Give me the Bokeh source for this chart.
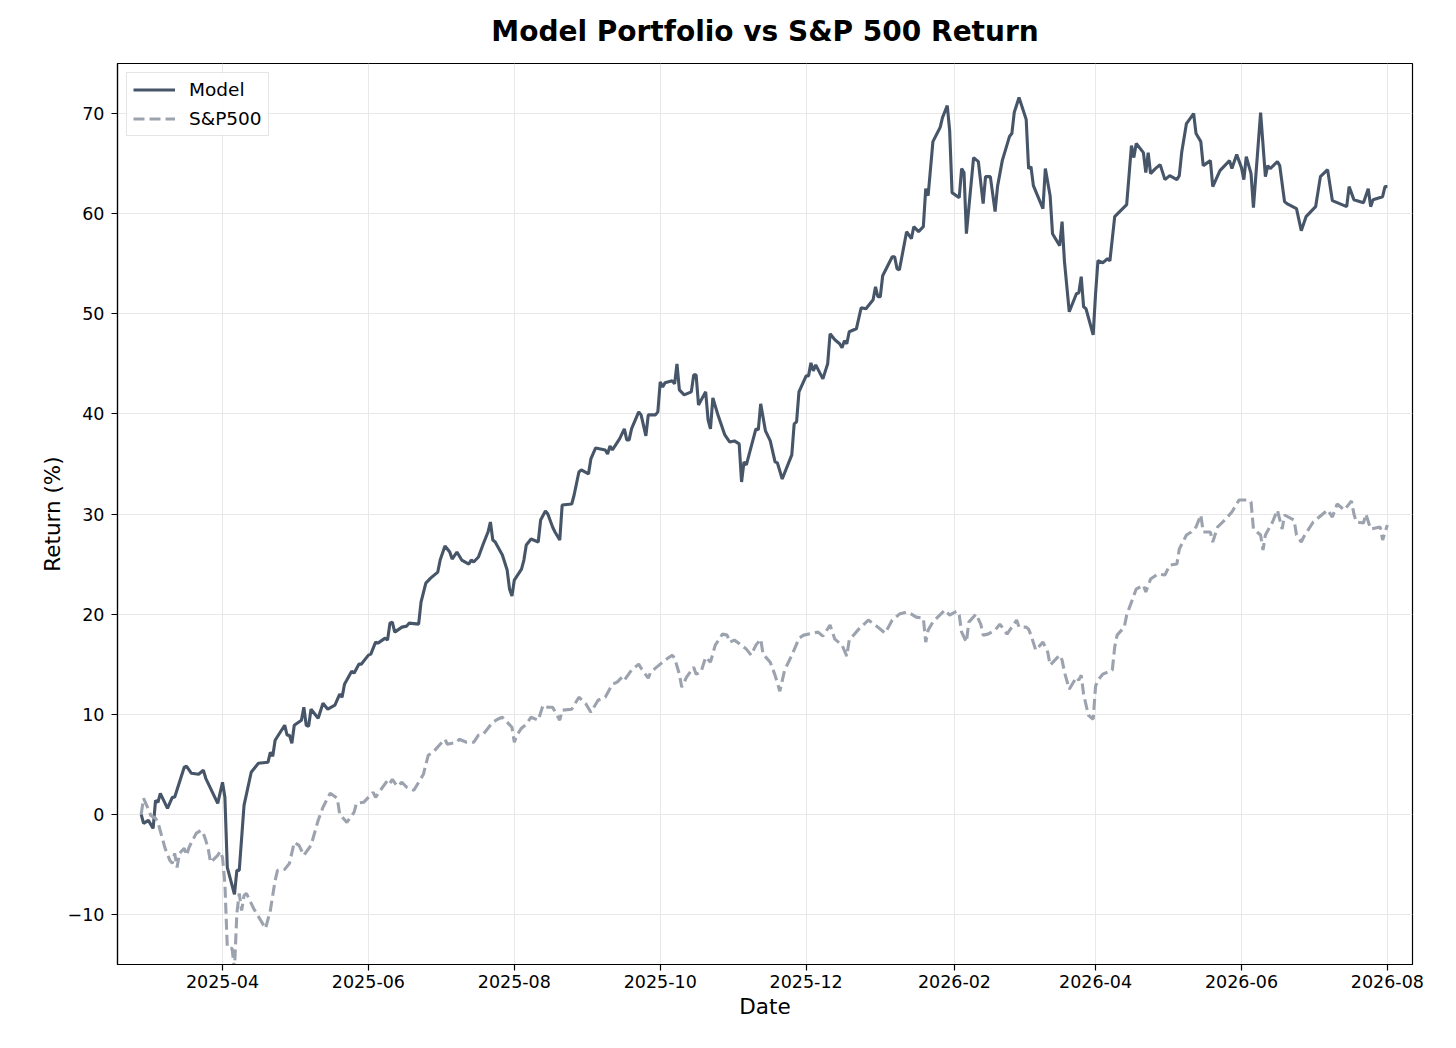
import pandas as pd
from bokeh.plotting import figure
from bokeh.models import (ColumnDataSource, Range1d, FixedTicker, DatetimeTickFormatter,
                          Legend, LegendItem)
from bokeh.embed import file_html
from bokeh.resources import INLINE

# ---------------- data ----------------
model_dates = [
    "2025-02-26", "2025-02-27", "2025-03-01", "2025-03-03", "2025-03-04", "2025-03-05", "2025-03-06",
    "2025-03-09", "2025-03-11", "2025-03-12", "2025-03-16", "2025-03-17", "2025-03-19", "2025-03-22",
    "2025-03-24", "2025-03-25", "2025-03-30", "2025-04-01", "2025-04-02", "2025-04-03", "2025-04-06",
    "2025-04-07", "2025-04-08", "2025-04-10", "2025-04-13", "2025-04-16", "2025-04-20", "2025-04-21",
    "2025-04-22", "2025-04-23", "2025-04-27", "2025-04-28", "2025-04-29", "2025-04-30", "2025-05-01",
    "2025-05-04", "2025-05-05", "2025-05-06", "2025-05-07", "2025-05-08", "2025-05-11", "2025-05-13",
    "2025-05-15", "2025-05-18", "2025-05-20", "2025-05-21", "2025-05-22", "2025-05-25", "2025-05-26",
    "2025-05-28", "2025-05-29", "2025-06-01", "2025-06-02", "2025-06-04", "2025-06-05", "2025-06-08",
    "2025-06-09", "2025-06-10", "2025-06-11", "2025-06-12", "2025-06-15", "2025-06-17", "2025-06-18",
    "2025-06-22", "2025-06-23", "2025-06-25", "2025-06-27", "2025-06-30", "2025-07-01", "2025-07-03",
    "2025-07-05", "2025-07-06", "2025-07-08", "2025-07-10", "2025-07-13", "2025-07-14", "2025-07-15",
    "2025-07-17", "2025-07-19", "2025-07-21", "2025-07-22", "2025-07-23", "2025-07-24", "2025-07-27",
    "2025-07-29", "2025-07-30", "2025-07-31", "2025-08-01", "2025-08-04", "2025-08-05", "2025-08-06",
    "2025-08-08", "2025-08-11", "2025-08-12", "2025-08-14", "2025-08-15", "2025-08-17", "2025-08-18",
    "2025-08-20", "2025-08-21", "2025-08-25", "2025-08-26", "2025-08-28", "2025-08-29", "2025-09-01",
    "2025-09-02", "2025-09-04", "2025-09-08", "2025-09-09", "2025-09-10", "2025-09-11", "2025-09-14",
    "2025-09-16", "2025-09-17", "2025-09-18", "2025-09-19", "2025-09-22", "2025-09-23", "2025-09-25",
    "2025-09-26", "2025-09-29", "2025-09-30", "2025-10-01", "2025-10-02", "2025-10-03", "2025-10-06",
    "2025-10-07", "2025-10-08", "2025-10-09", "2025-10-11", "2025-10-14", "2025-10-15", "2025-10-16",
    "2025-10-17", "2025-10-20", "2025-10-21", "2025-10-22", "2025-10-23", "2025-10-25", "2025-10-28",
    "2025-10-30", "2025-11-01", "2025-11-03", "2025-11-04", "2025-11-05", "2025-11-06", "2025-11-10",
    "2025-11-11", "2025-11-12", "2025-11-14", "2025-11-16", "2025-11-18", "2025-11-19", "2025-11-21",
    "2025-11-25", "2025-11-26", "2025-11-27", "2025-11-28", "2025-12-01", "2025-12-02", "2025-12-03",
    "2025-12-04", "2025-12-05", "2025-12-08", "2025-12-10", "2025-12-11", "2025-12-13", "2025-12-15",
    "2025-12-16", "2025-12-17", "2025-12-18", "2025-12-19", "2025-12-22", "2025-12-24", "2025-12-26",
    "2025-12-29", "2025-12-30", "2025-12-31", "2026-01-01", "2026-01-02", "2026-01-06", "2026-01-07",
    "2026-01-08", "2026-01-09", "2026-01-12", "2026-01-14", "2026-01-15", "2026-01-17", "2026-01-19",
    "2026-01-20", "2026-01-21", "2026-01-23", "2026-01-26", "2026-01-27", "2026-01-29", "2026-01-30",
    "2026-01-31", "2026-02-03", "2026-02-04", "2026-02-05", "2026-02-06", "2026-02-09", "2026-02-11",
    "2026-02-13", "2026-02-14", "2026-02-16", "2026-02-18", "2026-02-19", "2026-02-21", "2026-02-24",
    "2026-02-25", "2026-02-26", "2026-02-28", "2026-03-03", "2026-03-04", "2026-03-05", "2026-03-06",
    "2026-03-10", "2026-03-11", "2026-03-13", "2026-03-14", "2026-03-17", "2026-03-18", "2026-03-19",
    "2026-03-21", "2026-03-24", "2026-03-25", "2026-03-26", "2026-03-27", "2026-03-28", "2026-03-31",
    "2026-04-01", "2026-04-02", "2026-04-04", "2026-04-06", "2026-04-07", "2026-04-09", "2026-04-14",
    "2026-04-16", "2026-04-17", "2026-04-18", "2026-04-21", "2026-04-22", "2026-04-23", "2026-04-24",
    "2026-04-26", "2026-04-28", "2026-04-30", "2026-05-02", "2026-05-05", "2026-05-06", "2026-05-07",
    "2026-05-09", "2026-05-12", "2026-05-13", "2026-05-15", "2026-05-16", "2026-05-19", "2026-05-20",
    "2026-05-23", "2026-05-27", "2026-05-28", "2026-05-30", "2026-06-01", "2026-06-02", "2026-06-03",
    "2026-06-05", "2026-06-06", "2026-06-09", "2026-06-11", "2026-06-12", "2026-06-13", "2026-06-16",
    "2026-06-17", "2026-06-19", "2026-06-20", "2026-06-24", "2026-06-26", "2026-06-28", "2026-06-30",
    "2026-07-02", "2026-07-04", "2026-07-07", "2026-07-09", "2026-07-15", "2026-07-16", "2026-07-18",
    "2026-07-22", "2026-07-24", "2026-07-25", "2026-07-26", "2026-07-30", "2026-07-31", "2026-08-01",
]
model_values = [
    0.0, -0.9, -0.6, -1.4, 1.4, 1.2, 2.1,
    0.6, 1.7, 1.7, 4.7, 4.8, 4.1, 4.0,
    4.4, 3.6, 1.1, 3.2, 1.7, -5.3, -8.0,
    -5.6, -5.6, 0.9, 4.2, 5.1, 5.2, 6.2,
    5.8, 7.4, 8.9, 7.9, 7.9, 7.1, 8.9,
    9.4, 10.7, 8.9, 8.8, 10.5, 9.6, 11.1,
    10.5, 10.9, 12.0, 11.7, 13.0, 14.3, 14.1,
    15.0, 15.0, 15.9, 16.0, 17.2, 17.1, 17.6,
    17.4, 19.1, 19.2, 18.2, 18.7, 18.8, 19.1,
    19.0, 21.2, 23.1, 23.6, 24.2, 25.4, 26.8,
    26.2, 25.5, 26.2, 25.4, 25.0, 25.4, 25.2,
    25.7, 27.0, 28.2, 29.2, 27.4, 27.2, 25.9,
    24.4, 22.5, 21.8, 23.4, 24.5, 25.4, 26.9,
    27.5, 27.2, 29.4, 30.3, 30.0, 28.7, 28.2,
    27.4, 30.9, 31.0, 31.9, 34.2, 34.4, 34.0,
    35.5, 36.6, 36.4, 36.0, 36.8, 36.4, 37.5,
    38.5, 37.4, 37.4, 38.5, 40.2, 39.9, 37.8,
    39.9, 39.9, 40.2, 43.2, 42.7, 43.1, 43.3,
    43.0, 45.0, 42.4, 41.9, 42.2, 43.9, 43.9,
    40.9, 42.2, 39.4, 38.5, 41.6, 40.0, 37.9,
    37.2, 37.3, 37.0, 33.2, 35.2, 34.9, 38.5,
    38.4, 41.0, 38.3, 37.3, 35.2, 35.1, 33.5,
    35.9, 39.0, 39.2, 42.2, 43.8, 43.8, 45.1,
    44.3, 44.9, 43.5, 45.0, 48.0, 47.4, 47.0,
    46.6, 47.3, 47.0, 48.2, 48.5, 50.6, 50.5,
    51.4, 52.7, 51.7, 51.7, 53.8, 55.7, 55.7,
    54.5, 54.4, 58.2, 57.5, 58.7, 58.2, 58.7,
    62.5, 61.8, 67.2, 68.6, 69.6, 70.8, 68.3,
    62.1, 61.6, 64.5, 64.1, 58.0, 65.6, 65.2,
    61.0, 63.7, 63.7, 60.2, 62.7, 65.3, 67.7,
    68.0, 70.1, 71.6, 69.4, 64.5, 64.7, 62.8,
    60.5, 64.5, 61.8, 58.0, 56.8, 59.2, 55.2,
    50.2, 52.0, 52.1, 53.7, 50.7, 50.5, 47.9,
    52.0, 55.3, 55.1, 55.5, 55.3, 59.7, 60.9,
    66.8, 65.6, 67.0, 66.1, 64.1, 66.1, 64.0,
    64.5, 64.9, 63.4, 63.8, 63.4, 63.8, 66.1,
    69.0, 70.0, 68.0, 67.2, 64.8, 65.3, 62.7,
    64.3, 65.3, 64.5, 65.9, 64.6, 63.4, 65.7,
    64.0, 60.6, 70.1, 63.7, 64.8, 64.5, 65.2,
    64.8, 61.2, 61.0, 60.5, 58.3, 59.7, 60.2,
    60.7, 63.7, 64.4, 61.3, 60.7, 62.7, 61.4,
    61.1, 62.5, 60.7, 61.4, 61.7, 62.7, 62.7,
]

sp_dates = [
    "2025-02-26", "2025-02-27", "2025-03-01", "2025-03-02", "2025-03-04", "2025-03-05", "2025-03-08",
    "2025-03-10", "2025-03-11", "2025-03-12", "2025-03-13", "2025-03-14", "2025-03-16", "2025-03-17",
    "2025-03-18", "2025-03-21", "2025-03-23", "2025-03-24", "2025-03-25", "2025-03-26", "2025-03-27",
    "2025-03-30", "2025-03-31", "2025-04-01", "2025-04-02", "2025-04-03", "2025-04-05", "2025-04-06",
    "2025-04-07", "2025-04-08", "2025-04-09", "2025-04-10", "2025-04-11", "2025-04-14", "2025-04-19",
    "2025-04-21", "2025-04-23", "2025-04-24", "2025-04-27", "2025-04-29", "2025-05-01", "2025-05-03",
    "2025-05-05", "2025-05-08", "2025-05-11", "2025-05-13", "2025-05-16", "2025-05-19", "2025-05-20",
    "2025-05-23", "2025-05-26", "2025-05-27", "2025-05-30", "2025-06-03", "2025-06-04", "2025-06-06",
    "2025-06-09", "2025-06-10", "2025-06-11", "2025-06-13", "2025-06-15", "2025-06-17", "2025-06-20",
    "2025-06-22", "2025-06-24", "2025-06-26", "2025-06-28", "2025-07-01", "2025-07-03", "2025-07-04",
    "2025-07-08", "2025-07-09", "2025-07-12", "2025-07-15", "2025-07-17", "2025-07-19", "2025-07-23",
    "2025-07-25", "2025-07-27", "2025-07-31", "2025-08-01", "2025-08-02", "2025-08-04", "2025-08-06",
    "2025-08-08", "2025-08-11", "2025-08-13", "2025-08-15", "2025-08-17", "2025-08-20", "2025-08-21",
    "2025-08-25", "2025-08-28", "2025-08-31", "2025-09-02", "2025-09-05", "2025-09-08", "2025-09-11",
    "2025-09-13", "2025-09-15", "2025-09-16", "2025-09-19", "2025-09-22", "2025-09-23", "2025-09-26",
    "2025-09-27", "2025-09-29", "2025-10-03", "2025-10-06", "2025-10-07", "2025-10-09", "2025-10-10",
    "2025-10-12", "2025-10-15", "2025-10-16", "2025-10-18", "2025-10-20", "2025-10-22", "2025-10-24",
    "2025-10-27", "2025-10-29", "2025-10-30", "2025-11-01", "2025-11-04", "2025-11-06", "2025-11-08",
    "2025-11-10", "2025-11-12", "2025-11-13", "2025-11-16", "2025-11-18", "2025-11-20", "2025-11-22",
    "2025-11-25", "2025-11-27", "2025-11-28", "2025-11-30", "2025-12-04", "2025-12-06", "2025-12-08",
    "2025-12-11", "2025-12-13", "2025-12-16", "2025-12-18", "2025-12-19", "2025-12-23", "2025-12-27",
    "2025-12-31", "2026-01-03", "2026-01-06", "2026-01-09", "2026-01-12", "2026-01-14", "2026-01-16",
    "2026-01-19", "2026-01-20", "2026-01-21", "2026-01-23", "2026-01-25", "2026-01-28", "2026-01-30",
    "2026-02-02", "2026-02-03", "2026-02-04", "2026-02-06", "2026-02-07", "2026-02-10", "2026-02-12",
    "2026-02-13", "2026-02-15", "2026-02-18", "2026-02-19", "2026-02-20", "2026-02-23", "2026-02-25",
    "2026-02-27", "2026-02-28", "2026-03-03", "2026-03-04", "2026-03-05", "2026-03-07", "2026-03-10",
    "2026-03-12", "2026-03-13", "2026-03-17", "2026-03-18", "2026-03-19", "2026-03-21", "2026-03-24",
    "2026-03-25", "2026-03-26", "2026-03-27", "2026-03-29", "2026-03-31", "2026-04-01", "2026-04-02",
    "2026-04-04", "2026-04-08", "2026-04-09", "2026-04-10", "2026-04-13", "2026-04-14", "2026-04-16",
    "2026-04-18", "2026-04-21", "2026-04-22", "2026-04-24", "2026-04-27", "2026-04-30", "2026-05-02",
    "2026-05-05", "2026-05-06", "2026-05-09", "2026-05-11", "2026-05-13", "2026-05-15", "2026-05-16",
    "2026-05-19", "2026-05-20", "2026-05-22", "2026-05-25", "2026-05-28", "2026-05-31", "2026-06-03",
    "2026-06-05", "2026-06-06", "2026-06-09", "2026-06-10", "2026-06-11", "2026-06-14", "2026-06-16",
    "2026-06-18", "2026-06-19", "2026-06-23", "2026-06-24", "2026-06-26", "2026-06-27", "2026-07-01",
    "2026-07-03", "2026-07-07", "2026-07-09", "2026-07-11", "2026-07-14", "2026-07-17", "2026-07-18",
    "2026-07-19", "2026-07-22", "2026-07-23", "2026-07-25", "2026-07-29", "2026-07-30", "2026-08-01",
]
sp_values = [
    0.0, 1.6, 0.5, -0.1, -0.4, -0.8, -3.4,
    -4.6, -4.9, -3.9, -5.3, -3.9, -3.4, -4.1,
    -3.3, -1.9, -1.6, -1.9, -2.6, -3.4, -4.8,
    -4.1, -3.7, -4.3, -6.9, -13.3, -13.4, -15.5,
    -9.9, -7.9, -9.6, -8.1, -7.9, -9.4, -11.4,
    -9.6, -6.6, -5.6, -5.5, -4.9, -2.8, -3.1,
    -4.1, -3.1, -0.6, 0.7, 2.1, 1.6, 0.0,
    -0.8, 0.2, 1.1, 1.2, 2.2, 1.7, 2.4,
    3.4, 3.1, 3.5, 2.8, 3.2, 2.7, 2.4,
    3.2, 4.0, 5.9, 6.2, 7.0, 7.5, 7.0,
    7.2, 7.5, 7.2, 7.2, 7.9, 8.0, 9.2,
    9.5, 9.7, 8.7, 7.2, 7.9, 8.6, 9.0,
    9.7, 9.4, 10.9, 10.7, 10.7, 9.4, 10.4,
    10.5, 11.7, 11.0, 10.2, 11.4, 11.7, 13.0,
    13.2, 13.7, 13.4, 14.4, 15.0, 14.6, 13.6,
    14.2, 14.6, 15.4, 15.9, 15.6, 14.0, 12.7,
    13.7, 14.7, 14.0, 14.2, 15.7, 15.2, 16.9,
    18.0, 17.9, 17.2, 17.4, 16.9, 16.5, 15.9,
    16.9, 17.5, 16.0, 15.2, 13.9, 12.3, 14.4,
    15.9, 17.0, 17.6, 17.9, 18.1, 18.2, 17.8,
    18.9, 17.5, 16.9, 15.8, 17.4, 18.5, 19.4,
    18.7, 18.1, 19.4, 20.0, 20.2, 20.0, 19.7,
    19.6, 17.2, 18.4, 19.2, 19.7, 20.4, 19.9,
    20.3, 19.9, 18.2, 17.2, 19.2, 20.0, 19.0,
    17.9, 18.0, 18.4, 18.7, 19.0, 18.0, 18.7,
    19.4, 18.7, 18.7, 18.5, 17.9, 16.4, 17.2,
    16.2, 14.9, 15.9, 15.4, 14.2, 12.5, 13.7,
    13.4, 13.9, 12.0, 9.9, 9.5, 12.8, 13.4,
    14.0, 14.4, 16.7, 17.9, 18.7, 19.9, 21.2,
    22.5, 22.9, 22.2, 23.5, 24.0, 23.9, 24.9,
    25.0, 26.5, 27.9, 28.2, 28.7, 29.9, 28.2,
    28.2, 27.2, 28.7, 29.4, 30.2, 31.4, 31.4,
    31.2, 28.5, 27.9, 26.4, 27.9, 29.2, 30.4,
    28.5, 29.9, 29.4, 27.9, 27.2, 27.7, 29.2,
    29.6, 30.4, 29.7, 31.0, 30.4, 31.3, 30.0,
    29.2, 29.1, 30.0, 28.5, 28.7, 27.4, 28.9,
]

x_tick_labels = ["2025-04", "2025-06", "2025-08", "2025-10", "2025-12",
                 "2026-02", "2026-04", "2026-06", "2026-08"]
y_tick_values = [-10, 0, 10, 20, 30, 40, 50, 60, 70]

# ---------------- figure ----------------
FONT = "DejaVu Sans"
MODEL_COLOR = "#475569"
SP_COLOR = "#9ca3af"

model_src = ColumnDataSource(dict(date=pd.to_datetime(model_dates), ret=model_values))
sp_src = ColumnDataSource(dict(date=pd.to_datetime(sp_dates), ret=sp_values))

p = figure(
    x_axis_type="datetime",
    frame_width=1295, frame_height=901,
    min_border_left=117, min_border_right=40, min_border_top=63, min_border_bottom=80,
    x_range=Range1d(pd.Timestamp("2025-02-16 02:24"), pd.Timestamp("2026-08-11 12:00")),
    y_range=Range1d(-15, 75),
    output_backend="svg", toolbar_location=None,
    title="Model Portfolio vs S&P 500 Return",
)
p.background_fill_color = "white"
p.border_fill_color = "white"
p.outline_line_color = "black"
p.outline_line_width = 1.2

p.title.align = "center"
p.title.vertical_align = "top"
p.title.text_font = FONT
p.title.text_font_size = "28px"
p.title.text_font_style = "bold"
p.title.text_color = "black"
p.title.standoff = 28

r_model = p.line("date", "ret", source=model_src, line_color=MODEL_COLOR, line_width=3.1)
r_sp = p.line("date", "ret", source=sp_src, line_color=SP_COLOR, line_width=3.1,
              line_dash="11 5")

# axes
tick_ms = [pd.Timestamp(t + "-01").value // 10**6 for t in x_tick_labels]
p.xaxis.ticker = FixedTicker(ticks=tick_ms)
fmt = "%Y-%m"
p.xaxis.formatter = DatetimeTickFormatter(
    milliseconds=fmt, seconds=fmt, minsec=fmt, minutes=fmt, hourmin=fmt, hours=fmt,
    days=fmt, months=fmt, years=fmt)
p.yaxis.ticker = FixedTicker(ticks=y_tick_values)
p.yaxis.major_label_overrides = {v: str(v).replace("-", "\u2212") for v in y_tick_values}

for ax in (p.xaxis[0], p.yaxis[0]):
    ax.axis_line_color = "black"
    ax.axis_line_width = 1.2
    ax.major_tick_line_color = "black"
    ax.major_tick_line_width = 1.2
    ax.major_tick_out = 6
    ax.major_tick_in = 0
    ax.minor_tick_out = 0
    ax.minor_tick_in = 0
    ax.major_label_text_font = FONT
    ax.major_label_text_font_size = "17.5px"
    ax.major_label_text_color = "black"
    ax.axis_label_text_font = FONT
    ax.axis_label_text_font_size = "21.5px"
    ax.axis_label_text_font_style = "normal"
    ax.axis_label_text_color = "black"

p.xaxis.axis_label = "Date"
p.yaxis.axis_label = "Return (%)"
p.xaxis.major_label_standoff = 4
p.yaxis.major_label_standoff = 7
p.xaxis.axis_label_standoff = 3
p.yaxis.axis_label_standoff = 0

p.xgrid.grid_line_color = "#e8e8e8"
p.ygrid.grid_line_color = "#e8e8e8"
p.xgrid.grid_line_width = 1
p.ygrid.grid_line_width = 1

legend = Legend(
    items=[LegendItem(label="Model", renderers=[r_model]),
           LegendItem(label="S&P500", renderers=[r_sp])],
    location="top_left",
    margin=9,
    padding=6,
    spacing=8,
    label_height=21,
    glyph_height=21,
    glyph_width=42,
    label_standoff=14,
    label_text_font=FONT,
    label_text_font_size="18.5px",
    label_text_color="black",
    border_line_color="#cccccc",
    border_line_width=1,
    background_fill_color="white",
    background_fill_alpha=0.85,
)
p.add_layout(legend)

open("out.html", "w").write(file_html(p, INLINE))
